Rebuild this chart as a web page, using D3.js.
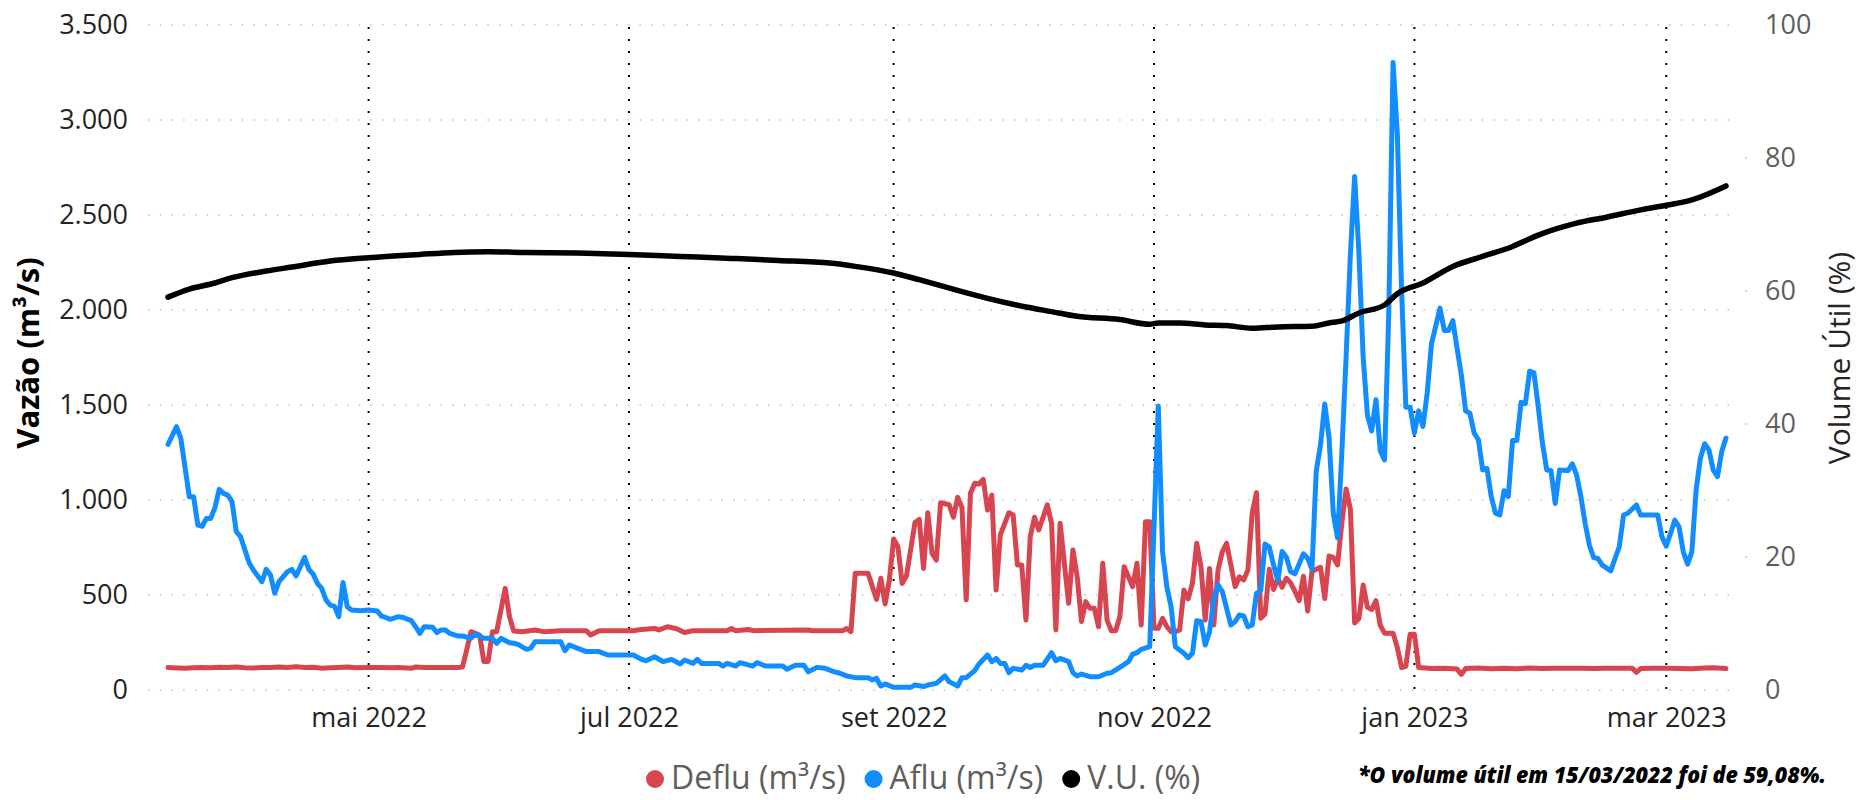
<!DOCTYPE html>
<html><head><meta charset="utf-8">
<script src="https://cdn.jsdelivr.net/npm/d3@7"></script>
<style>
html,body{margin:0;padding:0;background:#fff;overflow:hidden}
svg{display:block}
</style></head><body>
<svg id="chart" width="1861" height="800"></svg>
<script>
// ---------- DATA ----------
const startDate = "2022-03-15";
const endDate = "2023-03-15";

// [days since startDate, m³/s]
const deflu = [[0,118],[2,116],[4,114],[6,117],[8,119],[10,117],[12,120],[14,118],[16,121],[18,117],[20,116],[22,119],[24,118],[26,121],[28,119],[30,122],[32,118],[34,120],[36,114],[38,117],[40,119],[42,121],[44,117],[46,118],[48,119],[50,118],[52,117],[54,119],[56,116],[57,114],[58,121],[60,119],[62,118],[64,119],[66,119],[68,119],[69,121],[71,307],[73,289],[74,150],[75,150],[76,307],[77,307],[79,535],[80,386],[81,310],[83,307],[86,316],[88,307],[92,312],[98,312],[99,289],[101,312],[109,312],[111,319],[114,324],[115,316],[117,333],[119,324],[121,303],[123,312],[131,312],[132,324],[133,312],[136,319],[137,312],[150,316],[151,312],[158,312],[159,324],[160,307],[161,614],[164,614],[166,477],[167,588],[168,453],[169,579],[170,795],[171,754],[172,561],[173,600],[175,881],[176,898],[177,640],[178,933],[179,719],[180,684],[181,986],[183,975],[184,909],[185,1014],[186,961],[187,474],[188,1035],[189,1088],[190,1084],[191,1109],[192,947],[193,1026],[194,526],[195,816],[197,933],[198,921],[199,658],[200,658],[201,368],[202,807],[203,909],[204,842],[206,975],[207,877],[208,316],[209,877],[211,456],[212,737],[213,596],[214,360],[215,465],[216,430],[217,430],[218,333],[219,667],[220,368],[221,312],[222,312],[223,386],[224,649],[225,596],[226,544],[227,667],[228,342],[229,886],[230,886],[231,325],[232,325],[233,377],[234,333],[235,307],[236,307],[237,316],[238,526],[239,480],[240,561],[241,772],[242,649],[243,368],[244,640],[245,342],[246,632],[247,728],[248,772],[250,544],[251,596],[252,579],[253,632],[254,930],[255,1039],[256,377],[257,400],[258,635],[259,529],[260,588],[261,541],[262,588],[263,564],[264,520],[265,470],[266,599],[267,416],[268,623],[269,635],[270,646],[271,482],[272,705],[273,698],[274,658],[275,881],[276,1058],[277,952],[278,353],[279,376],[280,552],[281,435],[282,423],[283,470],[284,341],[285,299],[287,299],[288,223],[289,118],[290,125],[291,294],[292,294],[293,118],[296,113],[299,115],[302,110],[303,82],[304,113],[307,116],[310,112],[313,115],[316,112],[319,116],[322,113],[325,115],[328,114],[331,115],[334,113],[337,115],[340,114],[343,115],[344,93],[345,113],[348,115],[351,114],[354,113],[357,112],[360,116],[362,117],[365,113]];

const aflu = [[0,1293],[2,1386],[3,1324],[5,1017],[6,1017],[7,868],[8,862],[9,903],[10,903],[11,960],[12,1056],[13,1035],[14,1026],[15,991],[16,833],[17,807],[19,670],[20,632],[22,570],[23,635],[24,605],[25,509],[26,570],[28,623],[29,635],[30,600],[32,698],[33,635],[34,610],[35,561],[36,535],[37,474],[38,447],[39,440],[40,386],[41,566],[42,438],[43,421],[45,417],[47,421],[49,416],[50,389],[51,382],[52,372],[54,386],[55,382],[57,365],[58,333],[59,298],[60,333],[62,330],[63,302],[64,316],[65,316],[66,298],[68,284],[69,284],[71,272],[72,295],[74,272],[76,272],[77,246],[78,272],[80,249],[81,246],[82,240],[84,214],[85,220],[86,254],[92,254],[93,207],[94,237],[96,219],[98,202],[101,202],[103,184],[109,184],[111,161],[112,154],[114,175],[116,149],[118,161],[120,137],[121,158],[123,140],[124,161],[125,140],[129,140],[130,126],[131,140],[133,126],[134,144],[137,126],[138,144],[140,126],[144,126],[145,109],[147,130],[149,130],[150,96],[152,119],[154,114],[156,96],[157,91],[159,74],[161,65],[164,65],[165,53],[166,61],[167,21],[168,32],[170,14],[174,14],[175,26],[177,18],[178,26],[180,35],[182,74],[183,44],[185,21],[186,65],[187,65],[189,102],[190,137],[192,184],[193,149],[194,166],[195,140],[196,140],[197,91],[198,114],[200,105],[201,130],[202,119],[203,130],[205,130],[207,196],[208,154],[209,166],[211,149],[212,91],[213,74],[214,84],[216,70],[218,70],[220,88],[221,91],[223,119],[225,149],[226,189],[227,196],[228,214],[230,228],[232,1495],[233,728],[234,544],[235,438],[236,228],[237,210],[238,193],[239,170],[240,193],[241,365],[242,360],[243,237],[244,307],[245,474],[246,553],[247,518],[249,342],[250,360],[251,395],[252,390],[253,333],[254,342],[255,509],[256,523],[257,768],[258,752],[259,658],[260,576],[261,729],[262,700],[263,623],[264,611],[266,717],[267,693],[268,635],[269,1150],[270,1290],[271,1505],[272,1328],[273,929],[274,800],[275,1250],[276,1751],[277,2292],[278,2703],[279,2300],[280,1750],[281,1446],[282,1363],[283,1528],[284,1260],[285,1211],[286,1986],[287,3303],[288,2927],[289,2104],[290,1488],[291,1488],[292,1352],[293,1469],[294,1387],[295,1563],[296,1822],[298,2010],[299,1892],[300,1892],[301,1944],[302,1798],[303,1657],[304,1469],[305,1457],[306,1352],[307,1317],[308,1158],[309,1167],[310,1018],[311,930],[312,921],[313,1049],[314,1018],[315,1313],[316,1313],[317,1514],[318,1507],[319,1678],[320,1669],[321,1493],[322,1299],[323,1158],[324,1155],[325,982],[326,1158],[328,1155],[329,1190],[330,1132],[331,1018],[332,877],[333,762],[334,697],[335,692],[336,657],[338,627],[339,692],[340,754],[341,921],[342,930],[344,974],[345,921],[349,921],[350,806],[351,757],[352,824],[353,894],[354,859],[355,727],[356,662],[357,727],[358,1053],[359,1220],[360,1296],[361,1264],[362,1158],[363,1123],[364,1255],[365,1326]];

// [days since startDate, %]
const vu = [[0,59.08],[5,60.3],[11,61.2],[15,62.0],[23,63.0],[29,63.6],[38,64.5],[47,65.0],[59,65.5],[67,65.8],[75,65.9],[84,65.8],[96,65.7],[108,65.5],[120,65.2],[132,64.9],[143,64.6],[155,64.2],[161,63.7],[170,62.7],[176,61.7],[181,60.8],[186,59.9],[192,58.9],[201,57.6],[207,56.9],[213,56.2],[223,55.7],[230,55.0],[232,55.2],[237,55.2],[243,54.9],[248,54.8],[254,54.4],[260,54.6],[268,54.7],[272,55.2],[275,55.5],[279,56.7],[285,57.9],[288,59.6],[294,61.2],[301,63.7],[308,65.2],[315,66.7],[321,68.4],[330,70.2],[337,71.1],[345,72.2],[351,72.9],[357,73.7],[365,75.8]];

const leftTicks = [0,500,1000,1500,2000,2500,3000,3500];
const rightTicks = [0,20,40,60,80,100];
const monthTicks = ["2022-05-01","2022-07-01","2022-09-01","2022-11-01","2023-01-01","2023-03-01"];
const monthLabels = ["mai 2022","jul 2022","set 2022","nov 2022","jan 2023","mar 2023"];
const seriesNames = ["Deflu (m³/s)","Aflu (m³/s)","V.U. (%)"];
const leftTitle = "Vazão (m³/s)";
const rightTitle = "Volume Útil (%)";
const footnote = "*O volume útil em 15/03/2022 foi de 59,08%.";

// ---------- STYLE ----------
const colors = ["#D64550","#118DFF","#000000"];
const FONT = "'Open Sans', 'Noto Sans', sans-serif";

// ---------- CHART ----------
const svg = d3.select("#chart");
const parse = d3.utcParse("%Y-%m-%d");
const t0 = parse(startDate), t1 = parse(endDate);
const gridL = 148, gridR = 1738, plotTop = 25, plotBottom = 690;

const x = d3.scaleUtc().domain([t0, t1]).range([168, 1726]);
const yL = d3.scaleLinear().domain([0, 3500]).range([plotBottom, plotTop]);
const yR = d3.scaleLinear().domain([0, 100]).range([plotBottom, plotTop]);

const toPts = arr => arr.map(([d, v]) => ({date: d3.utcDay.offset(t0, d), v}));

const loc = d3.formatLocale({decimal: ",", thousands: ".", grouping: [3], currency: ["R$ ", ""]});
const fmt = loc.format(",d");

// horizontal gridlines
svg.append("g").selectAll("line").data(leftTicks).join("line")
  .attr("x1", gridL).attr("x2", gridR)
  .attr("y1", d => yL(d)).attr("y2", d => yL(d))
  .attr("stroke", "#C8C6C4").attr("stroke-width", 1.7)
  .attr("stroke-dasharray", "1.7,10");

// right axis gridline stubs
svg.append("g").selectAll("rect").data(rightTicks.slice(1, -1)).join("rect")
  .attr("x", 1745).attr("y", d => yR(d) - 0.85).attr("width", 1.7).attr("height", 1.7)
  .attr("fill", "#C8C6C4");

// vertical month lines
const monthDates = monthTicks.map(parse);
svg.append("g").selectAll("line").data(monthDates).join("line")
  .attr("x1", d => x(d)).attr("x2", d => x(d))
  .attr("y1", 27).attr("y2", 694)
  .attr("stroke", "#000").attr("stroke-width", 2)
  .attr("stroke-dasharray", "2,10");

// axes
const styleAxis = (g, color) => {
  g.select(".domain").remove();
  g.attr("font-family", FONT).attr("font-size", 27);
  g.selectAll("text").attr("fill", color);
};
svg.append("g").attr("transform", `translate(${gridL},0)`)
  .call(d3.axisLeft(yL).tickValues(leftTicks).tickSize(0).tickPadding(20).tickFormat(fmt))
  .call(g => styleAxis(g, "#252423"));
svg.append("g").attr("transform", `translate(${gridR},0)`)
  .call(d3.axisRight(yR).tickValues(rightTicks).tickSize(0).tickPadding(27).tickFormat(d3.format("d")))
  .call(g => styleAxis(g, "#605E5C"));
svg.append("g").attr("transform", `translate(0,${plotBottom})`)
  .call(d3.axisBottom(x).tickValues(monthDates).tickSize(0).tickPadding(18)
    .tickFormat((d, i) => monthLabels[i]))
  .call(g => styleAxis(g, "#252423"));

// axis titles
svg.append("text").attr("transform", "translate(39,353) rotate(-90)")
  .attr("text-anchor", "middle").attr("font-family", FONT).attr("font-weight", 700)
  .attr("font-size", 31).attr("fill", "#000").text(leftTitle);
svg.append("text").attr("transform", "translate(1850,358) rotate(-90)")
  .attr("text-anchor", "middle").attr("font-family", FONT)
  .attr("font-size", 30).attr("fill", "#252423").text(rightTitle);

// lines
const lineL = d3.line().x(d => x(d.date)).y(d => yL(d.v));
const lineR = d3.line().x(d => x(d.date)).y(d => yR(d.v)).curve(d3.curveMonotoneX);
const series = [
  {pts: toPts(deflu), gen: lineL, w: 5},
  {pts: toPts(aflu), gen: lineL, w: 5},
  {pts: toPts(vu), gen: lineR, w: 5.5}
];
series.forEach((s, i) => {
  svg.append("path").datum(s.pts).attr("d", s.gen)
    .attr("fill", "none").attr("stroke", colors[i]).attr("stroke-width", s.w)
    .attr("stroke-linejoin", "round").attr("stroke-linecap", "round");
});

// legend
let cursor = 646;
const lg = svg.append("g").attr("font-family", FONT).attr("font-size", 32);
seriesNames.forEach((name, i) => {
  lg.append("circle").attr("cx", cursor + 9).attr("cy", 779).attr("r", 9).attr("fill", colors[i]);
  const t = lg.append("text").attr("x", cursor + 25).attr("y", 789).attr("fill", "#605E5C").text(name);
  cursor = cursor + 25 + t.node().getComputedTextLength() + 19;
});

// footnote
svg.append("text").attr("x", 1358).attr("y", 783)
  .attr("font-family", FONT).attr("font-style", "italic").attr("font-weight", 800)
  .attr("font-size", 22).attr("fill", "#000")
  .attr("textLength", 468).attr("lengthAdjust", "spacingAndGlyphs")
  .text(footnote);
</script>
</body></html>
